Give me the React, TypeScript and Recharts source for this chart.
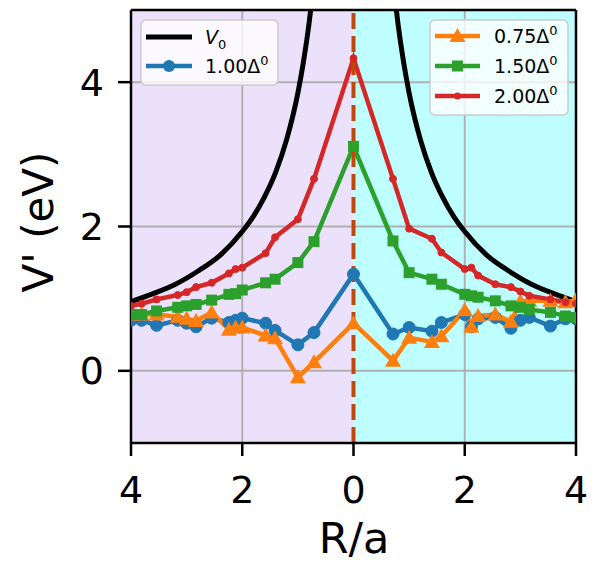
import React from 'react'
import { LineChart, Line, XAxis, YAxis, ReferenceArea, ReferenceLine } from 'recharts'

// R/a positions (left side negative), shared by all Δ series
const R = [
  -4.0, -3.81, -3.54, -3.16, -3.0, -2.83, -2.55, -2.24, -2.12, -2.0, -1.58, -1.41, -1.0, -0.71, 0,
  0.71, 1.0, 1.41, 1.58, 2.0, 2.12, 2.24, 2.55, 2.83, 3.0, 3.16, 3.54, 3.81, 4.0,
]
const D075 = [
  0.78, 0.78, 0.78, 0.75, 0.72, 0.69, 0.81, 0.57, 0.6, 0.6, 0.49, 0.45, -0.09, 0.12, 0.66,
  0.14, 0.46, 0.4, 0.48, 0.84, 0.61, 0.76, 0.78, 0.68, 0.96, 0.97, 0.97, 0.95, 0.98,
]
const D100 = [
  0.7, 0.7, 0.63, 0.7, 0.66, 0.61, 0.73, 0.67, 0.7, 0.73, 0.66, 0.56, 0.36, 0.53, 1.34,
  0.51, 0.6, 0.55, 0.67, 0.78, 0.61, 0.72, 0.74, 0.59, 0.7, 0.74, 0.62, 0.72, 0.72,
]
const D150 = [
  0.78, 0.78, 0.83, 0.88, 0.9, 0.92, 0.98, 1.06, 1.07, 1.12, 1.22, 1.27, 1.5, 1.79, 3.11,
  1.8, 1.36, 1.27, 1.2, 1.06, 1.04, 1.02, 0.97, 0.9, 0.88, 0.85, 0.81, 0.76, 0.74,
]
const D200 = [
  0.9, 0.93, 0.99, 1.05, 1.09, 1.16, 1.22, 1.35, 1.41, 1.43, 1.63, 1.85, 2.1, 2.66, 4.33,
  2.66, 1.97, 1.83, 1.64, 1.41, 1.43, 1.32, 1.2, 1.16, 1.1, 1.04, 0.99, 0.95, 0.93,
]

// bare potential V0, read along |R|
const V0_R = [0.7, 0.75, 0.8, 0.9, 1.0, 1.2, 1.4, 1.6, 1.8, 2.0, 2.4, 2.8, 3.2, 3.6, 4.0]
const V0_VAL = [5.5, 5.13, 4.81, 4.28, 3.85, 3.21, 2.75, 2.41, 2.14, 1.93, 1.6, 1.38, 1.2, 1.07, 0.96]

const C_BLUE = '#1f77b4'
const C_ORANGE = '#ff7f0e'
const C_GREEN = '#2ca02c'
const C_RED = '#d62728'
const FONT = 'DejaVu Sans, sans-serif'
const LW = 4.5

const rows = R.map((r, i) => ({ r, d075: D075[i], d100: D100[i], d150: D150[i], d200: D200[i] }))
const v0Left = V0_R.map((r, i) => ({ r: -r, v: V0_VAL[i] })).reverse()
const v0Right = V0_R.map((r, i) => ({ r, v: V0_VAL[i] }))

const circleDot = (rad: number, color: string) => (p: any) => {
  if (p.cy == null) return <g key={p.index} />
  return <circle key={p.index} cx={p.cx} cy={p.cy} r={rad} fill={color} stroke={color} strokeWidth={1} />
}

const triDot = (p: any) => {
  if (p.cy == null) return <g key={p.index} />
  const s = 8
  return (
    <path
      key={p.index}
      d={`M${p.cx},${p.cy - s} L${p.cx + s},${p.cy + s * 0.75} L${p.cx - s},${p.cy + s * 0.75} Z`}
      fill={C_ORANGE}
    />
  )
}

const squareDot = (p: any) => {
  if (p.cy == null) return <g key={p.index} />
  const s = 5.5
  return <rect key={p.index} x={p.cx - s} y={p.cy - s} width={s * 2} height={s * 2} fill={C_GREEN} />
}

function Legend() {
  const box = { fill: '#fff', fillOpacity: 0.8, stroke: '#cccccc', strokeWidth: 1.5 }
  const txt = { fontSize: 19, fill: '#000', fontFamily: FONT }
  const sup = (
    <tspan fontSize={13} dy={-8}>
      0
    </tspan>
  )
  return (
    <svg
      width={595}
      height={565}
      style={{ position: 'absolute', left: 0, top: 0, pointerEvents: 'none' }}
    >
      {/* left box */}
      <rect x={141} y={20} width={137} height={65} rx={5} {...box} />
      <line x1={146} x2={192} y1={37} y2={37} stroke="#000" strokeWidth={5} />
      <text x={205} y={44} {...txt}>
        <tspan fontStyle="italic">V</tspan>
        <tspan fontSize={13} dy={5}>
          0
        </tspan>
      </text>
      <line x1={146} x2={192} y1={66} y2={66} stroke={C_BLUE} strokeWidth={LW} />
      <circle cx={169} cy={66} r={6} fill={C_BLUE} />
      <text x={205} y={73} {...txt}>
        1.00Δ{sup}
      </text>

      {/* right box */}
      <rect x={430} y={20} width={138} height={95} rx={5} {...box} />
      <line x1={435} x2={480} y1={36} y2={36} stroke={C_ORANGE} strokeWidth={LW} />
      <path d="M457.5,28 L465.5,42 L449.5,42 Z" fill={C_ORANGE} />
      <text x={494} y={43} {...txt}>
        0.75Δ{sup}
      </text>
      <line x1={435} x2={480} y1={66} y2={66} stroke={C_GREEN} strokeWidth={LW} />
      <rect x={452} y={60.5} width={11} height={11} fill={C_GREEN} />
      <text x={494} y={73} {...txt}>
        1.50Δ{sup}
      </text>
      <line x1={435} x2={480} y1={96} y2={96} stroke={C_RED} strokeWidth={LW} />
      <circle cx={457.5} cy={96} r={3.5} fill={C_RED} />
      <text x={494} y={103} {...txt}>
        2.00Δ{sup}
      </text>

      {/* axis titles */}
      <text
        x={0}
        y={0}
        transform="translate(38,222) rotate(-90)"
        textAnchor="middle"
        dominantBaseline="central"
        fontSize={42}
        fontFamily={FONT}
        fill="#000"
      >
        V' (eV)
      </text>
      <text x={354} y={553} textAnchor="middle" fontSize={43} fontFamily={FONT} fill="#000">
        R/a
      </text>
    </svg>
  )
}

export default function App() {
  const grid = '#b0b0b0'
  return (
    <div style={{ position: 'absolute', left: 0, top: 0, width: 595, height: 565, background: '#fff' }}>
      <LineChart width={595} height={565} data={rows} margin={{ top: 10, right: 19, bottom: 0, left: 0 }}>
        <XAxis
          type="number"
          dataKey="r"
          domain={[-4, 4]}
          ticks={[-4, -2, 0, 2, 4]}
          interval={0}
          allowDataOverflow
          tickFormatter={(v: number) => String(Math.abs(v))}
          height={122}
          tickSize={13}
          tickMargin={20}
          axisLine={{ stroke: '#000', strokeWidth: 2.5 }}
          tickLine={{ stroke: '#000', strokeWidth: 2.5 }}
          tick={{ fontSize: 38, fill: '#000', fontFamily: FONT }}
        />
        <YAxis
          type="number"
          domain={[-1, 5]}
          ticks={[0, 2, 4]}
          interval={0}
          allowDataOverflow
          width={131}
          tickSize={13}
          tickMargin={14}
          axisLine={{ stroke: '#000', strokeWidth: 2.5 }}
          tickLine={{ stroke: '#000', strokeWidth: 2.5 }}
          tick={{ fontSize: 38, fill: '#000', fontFamily: FONT }}
        />
        <ReferenceArea x1={-4} x2={0} y1={-1} y2={5} fill="#ebe1fb" fillOpacity={1} stroke="none" />
        <ReferenceArea x1={0} x2={4} y1={-1} y2={5} fill="#bffefe" fillOpacity={1} stroke="none" />
        <ReferenceLine x={-2} stroke={grid} strokeWidth={2} />
        <ReferenceLine x={2} stroke={grid} strokeWidth={2} />
        <ReferenceLine y={0} stroke={grid} strokeWidth={2} />
        <ReferenceLine y={2} stroke={grid} strokeWidth={2} />
        <ReferenceLine y={4} stroke={grid} strokeWidth={2} />

        <Line data={v0Left} dataKey="v" type="monotone" stroke="#000" strokeWidth={5} dot={false} activeDot={false} isAnimationActive={false} />
        <Line data={v0Right} dataKey="v" type="monotone" stroke="#000" strokeWidth={5} dot={false} activeDot={false} isAnimationActive={false} />
        <Line dataKey="d100" type="linear" stroke={C_BLUE} strokeWidth={LW} dot={circleDot(6, C_BLUE)} activeDot={false} isAnimationActive={false} />
        <Line dataKey="d075" type="linear" stroke={C_ORANGE} strokeWidth={LW} dot={triDot} activeDot={false} isAnimationActive={false} />
        <Line dataKey="d150" type="linear" stroke={C_GREEN} strokeWidth={LW} dot={squareDot} activeDot={false} isAnimationActive={false} />
        <Line dataKey="d200" type="linear" stroke={C_RED} strokeWidth={LW} dot={circleDot(3.5, C_RED)} activeDot={false} isAnimationActive={false} />

        <ReferenceLine x={0} stroke="#c0480c" strokeWidth={4} strokeDasharray="16 7" />
        <ReferenceLine x={4} stroke="#000" strokeWidth={2.5} />
        <ReferenceLine y={5} stroke="#000" strokeWidth={2.5} />
      </LineChart>
      <Legend />
    </div>
  )
}
